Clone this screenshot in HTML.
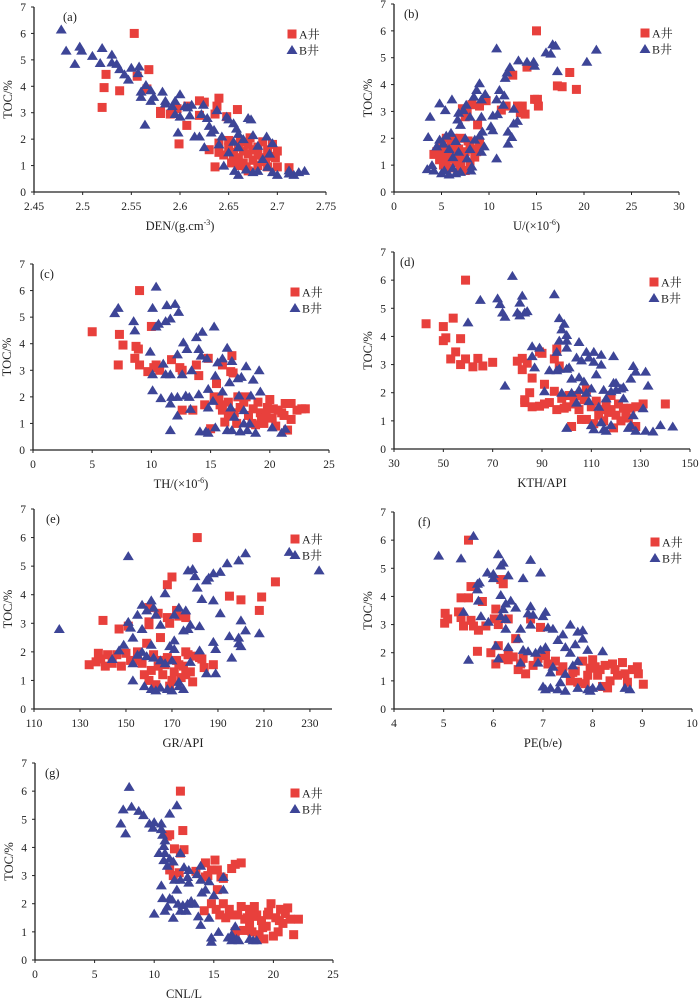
<!DOCTYPE html>
<html><head><meta charset="utf-8">
<style>
html,body{margin:0;padding:0;background:#fff;}
svg{display:block;}
text{font-family:"Liberation Serif","Noto Serif CJK SC",serif;fill:#222;}
</style></head>
<body>
<svg id="chart" width="700" height="998" viewBox="0 0 700 998" xmlns="http://www.w3.org/2000/svg"></svg>
<script>
// ---- data (x, TOC) ----
const denA=[[2.553,6],[2.568,4.63],[2.556,4.38],[2.524,4.45],[2.522,3.95],[2.538,3.83],[2.52,3.2],[2.566,3.9],[2.58,3.05],[2.58,2.97],[2.59,2.95],[2.597,3.15],[2.608,3.25],[2.607,2.52],[2.599,1.82],[2.62,3.45],[2.625,3.4],[2.64,3.55],[2.638,3.25],[2.62,2.9],[2.636,2.95],[2.659,3.12],[2.648,2.85],[2.636,0.95],[2.63,1.6],[2.64,1.85],[2.65,1.7],[2.655,1.5],[2.66,1.3],[2.665,1.55],[2.67,1.8],[2.672,2.05],[2.68,1.4],[2.685,1.9],[2.69,1.6],[2.695,1.8],[2.7,1.55],[2.698,1.3],[2.7,0.95],[2.712,0.92],[2.69,0.95],[2.68,1.0],[2.67,0.8],[2.66,1.0],[2.655,1.2],[2.645,1.4],[2.665,1.1],[2.675,1.2],[2.685,1.3],[2.66,1.7],[2.65,1.95],[2.68,1.7],[2.67,1.45],[2.675,1.6],[2.693,1.35],[2.64,1.5],[2.662,1.9],[2.653,1.1],[2.668,0.95],[2.688,1.15]];
const denB=[[2.478,6.15],[2.483,5.35],[2.492,4.85],[2.497,5.5],[2.499,5.35],[2.51,5.15],[2.518,4.88],[2.52,5.45],[2.53,5.2],[2.53,4.9],[2.535,4.85],[2.538,4.65],[2.543,4.45],[2.547,4.25],[2.55,4.7],[2.557,4.5],[2.558,4.75],[2.565,4.05],[2.56,3.8],[2.56,3.6],[2.57,3.85],[2.57,3.45],[2.573,3.6],[2.564,2.55],[2.582,3.8],[2.585,3.45],[2.585,3.35],[2.592,3.25],[2.595,3.45],[2.6,3.7],[2.595,2.95],[2.605,3.25],[2.6,2.85],[2.61,2.9],[2.612,3.3],[2.608,3.2],[2.598,2.25],[2.615,2.1],[2.62,2.1],[2.624,3.3],[2.622,2.95],[2.628,2.8],[2.63,2.5],[2.632,2.25],[2.635,2.35],[2.625,1.7],[2.638,3.1],[2.64,1.8],[2.643,2.1],[2.648,2.85],[2.65,2.75],[2.655,2.6],[2.658,2.4],[2.66,2.2],[2.65,1.5],[2.655,1.9],[2.66,1.7],[2.665,2.0],[2.67,2.8],[2.673,2.75],[2.675,2.15],[2.68,1.75],[2.689,2.1],[2.695,1.85],[2.645,1.0],[2.656,0.8],[2.66,0.65],[2.668,0.85],[2.675,0.75],[2.68,0.8],[2.69,0.95],[2.695,0.75],[2.7,0.65],[2.712,0.7],[2.712,0.82],[2.717,0.65],[2.722,0.75],[2.728,0.8],[2.685,1.25],[2.692,1.45]];
const uA=[[15,6],[14,4.65],[12.5,4.35],[18.5,4.45],[17.2,3.95],[17.7,3.92],[19.2,3.82],[14.8,3.45],[15.1,3.45],[15.2,3.2],[13.5,3.2],[13,3.2],[13.8,2.9],[13.3,2.95],[11.8,3.2],[11.3,3.05],[9.7,3.4],[9,3.2],[8.2,3.25],[7.5,2.8],[7.7,2.95],[7.2,3.1],[8.8,2.5],[5,1.4],[4.2,1.4],[5.5,2.0],[6,1.8],[6.5,1.5],[7,1.2],[5.5,1.1],[6,0.9],[7.5,0.8],[8,1.0],[8.5,1.3],[8.7,1.5],[9,1.8],[7.8,1.9],[7,2.0],[6.2,2.0],[5.2,1.0],[4.8,1.2],[5.8,1.3],[6.8,1.6],[7.3,1.4],[8.3,1.6],[5.5,1.6],[6.5,1.1],[7.5,1.5],[6,1.55],[5,1.7],[4.5,1.5],[7,0.9],[8,1.7],[8.8,1.6],[6.3,1.25]];
const uB=[[10.8,5.35],[16.7,5.5],[17,5.45],[16,5.2],[16.5,5.15],[21.3,5.3],[13.1,4.9],[14,4.85],[14.7,4.85],[14.8,4.7],[12.2,4.65],[11.9,4.45],[11.7,4.25],[20.3,4.85],[17.2,4.5],[9,4.05],[8.7,3.8],[9.6,3.65],[11.1,3.8],[11.6,3.6],[8.4,3.55],[10.8,3.45],[9.2,3.45],[11.5,3.25],[6.1,3.45],[4.8,3.3],[5.4,3.05],[3.8,2.8],[7.6,3.25],[6.8,2.95],[6.7,2.7],[7.3,3.05],[8,2.8],[9.2,2.8],[10.4,2.85],[10.9,2.9],[12.6,3.1],[13,2.65],[12.6,2.55],[10.2,2.45],[10.4,2.3],[9.3,2.25],[9,2.1],[12,2.25],[12.4,2.05],[12,1.8],[3.6,2.05],[9.5,1.7],[10.8,1.25],[7,2.5],[6,2.2],[5.5,2.1],[4.8,1.95],[4.5,1.7],[5.2,1.8],[6.5,1.9],[7.5,2.0],[8.5,1.95],[8,1.6],[6.8,1.5],[3.5,0.85],[4.2,0.8],[4,1.0],[5,0.7],[5.3,0.8],[5.8,0.65],[6.5,0.7],[7,0.75],[8.1,0.8],[8.2,0.95],[6.2,0.9],[7.7,1.25],[5.8,1.6],[6.2,1.3],[9.2,1.5]];
const thA=[[9,6],[5,4.45],[7.3,4.35],[10,4.65],[7.6,3.95],[8.7,3.9],[8.9,3.8],[8.6,3.45],[7.2,3.2],[9,3.2],[9.7,2.95],[10.2,3.1],[10.4,3.2],[10.7,3.0],[11.7,3.4],[12.4,3.1],[12.6,3.0],[13.8,3.2],[14,2.8],[14.8,3.45],[16,3.2],[16.8,3.55],[16.7,2.95],[16.9,2.9],[12.6,1.5],[13.5,1.5],[14.5,1.7],[15,0.8],[15.5,2.5],[15.3,2.0],[15.7,1.9],[16,1.5],[16.2,1.05],[16.5,1.8],[17,1.4],[17.2,1.0],[17.5,1.6],[18,2.0],[18.2,1.3],[18.5,1.0],[19,1.8],[19.2,1.4],[19.5,1.0],[19.8,1.6],[20,1.9],[20.2,1.2],[20.5,0.9],[21,1.4],[21.3,1.75],[21.5,0.75],[21.8,1.75],[21.8,1.15],[22.3,1.5],[22.7,1.55],[23,1.55],[18.8,0.95],[17.8,1.8],[19.3,1.2],[20.3,1.55],[16.5,1.3],[15.8,1.7],[17.3,2.0],[18.6,1.55],[19.7,1.3],[20.7,1.5],[21.2,1.3]];
const thB=[[10.4,6.15],[11.3,5.45],[12,5.5],[10.1,5.35],[12.3,5.2],[7.2,5.35],[6.9,5.15],[8.5,4.85],[11.6,4.95],[11.2,4.85],[10.6,4.75],[10.4,4.65],[8.6,4.5],[15.3,4.65],[14.3,4.45],[13.8,4.25],[12.7,4.05],[13,3.8],[9.9,3.7],[12.2,3.6],[14,3.8],[14.2,3.55],[16.4,3.85],[16,3.45],[14.7,3.45],[15.6,3.3],[15.4,2.8],[16.8,3.35],[11,3.25],[11.2,2.85],[11.6,2.85],[12.6,2.85],[13.4,3.0],[10.1,2.85],[18,3.15],[19.1,3.0],[18.6,2.65],[17.6,2.75],[17.3,2.7],[16.6,2.55],[10.1,2.25],[10.8,1.95],[11.7,2.0],[12.2,2.0],[12.9,2.05],[13.2,2.0],[14,2.1],[14.8,2.3],[19.2,2.2],[11.6,1.75],[12.2,1.3],[13.3,1.55],[14.8,1.6],[15.2,1.85],[16,2.2],[17.4,2.05],[18.4,2.05],[16.7,1.6],[17.8,1.5],[11.6,0.75],[14.1,0.7],[14.6,0.7],[14.8,0.65],[15.4,0.85],[16.4,0.75],[16.8,0.75],[17.5,0.7],[18.1,0.75],[18.8,0.65],[20.2,0.85],[21,0.65],[21.3,0.8],[17.8,1.0],[18.3,1.0],[17,1.25]];
const kthA=[[59,6],[43,4.45],[50,4.35],[54,4.65],[50,3.85],[51,3.95],[57,3.92],[53,3.2],[55,3.45],[59,3.2],[57,3.0],[62,2.92],[64,3.22],[66,2.95],[70,3.08],[80,3.12],[82,3.22],[84,3.05],[82,2.82],[89,3.45],[90,3.4],[86,2.52],[95,3.2],[96,3.55],[97,2.95],[85,2.0],[83,1.75],[83,1.65],[86,1.5],[89,1.52],[91,2.3],[91,1.6],[93,1.65],[95,2.05],[96,1.4],[98,1.8],[100,1.5],[101,1.9],[102,0.8],[103,1.6],[105,1.4],[106,1.05],[108,1.05],[108,2.1],[110,1.5],[111,0.9],[113,1.2],[115,1.0],[116,1.6],[117,1.3],[118,1.9],[119,0.75],[120,1.2],[121,1.6],[122,1.0],[124,1.3],[125,1.1],[126,1.45],[128,0.8],[128,1.5],[131,1.6],[140,1.6],[104,1.9],[112,1.7],[114,1.4],[118,1.4],[123,1.45],[99,1.45],[107,1.75]];
const kthB=[[78,6.15],[95,5.5],[65,5.3],[72,5.35],[73,5.15],[82,5.45],[81,5.2],[74,4.85],[75,4.7],[80,4.85],[81,4.75],[83,4.85],[84,4.9],[60,4.5],[97,4.65],[99,4.45],[98,4.25],[100,4.05],[100,3.85],[97,3.85],[96,3.45],[100,3.6],[105,3.8],[86,3.65],[89,3.6],[86,3.3],[104,3.25],[106,3.15],[108,3.45],[109,3.25],[111,3.45],[114,3.35],[111,3.1],[114,3.0],[119,3.3],[96,2.8],[97,2.85],[100,2.85],[101,2.9],[87,2.9],[93,2.8],[102,2.5],[105,2.55],[107,2.4],[112,2.65],[119,2.35],[120,2.35],[122,2.15],[123,2.2],[126,2.5],[127,2.95],[128,2.75],[132,2.75],[133,2.25],[75,2.25],[91,2.05],[98,2.0],[102,2.0],[105,2.1],[108,2.0],[110,2.15],[115,2.1],[118,2.05],[120,2.1],[113,1.5],[116,1.8],[123,1.8],[127,1.2],[131,1.45],[100,0.75],[110,0.85],[111,0.7],[114,0.95],[115,0.7],[116,0.65],[118,0.85],[125,0.75],[126,0.85],[128,0.65],[132,0.65],[135,0.62],[138,0.85],[143,0.8],[104,1.65],[109,1.7]];
const grA=[[181,6],[170,4.62],[168,4.35],[215,4.45],[195,3.95],[200,3.82],[209,3.92],[208,3.45],[140,3.1],[147,2.8],[151,2.9],[160,3.55],[160,3.05],[160,2.95],[164,3.35],[168,3.2],[169,3.0],[172,3.45],[176,3.2],[173,3.25],[165,2.5],[176,2.0],[134,1.55],[137,1.65],[138,1.95],[139,1.75],[141,1.5],[142,1.9],[144,1.6],[146,1.9],[148,1.5],[150,1.95],[152,1.7],[155,2.0],[157,1.6],[158,1.2],[159,2.3],[160,1.0],[162,1.9],[164,1.5],[166,1.2],[168,1.8],[169,0.8],[171,1.3],[172,1.7],[174,1.1],[175,1.5],[177,1.9],[178,1.3],[179,0.95],[180,1.85],[182,1.8],[183,1.75],[184,1.45],[188,1.55],[163,0.85],[167,1.55],[173,1.55],[176,1.2],[161,1.35],[170,1.0],[155,1.7],[165,1.7]];
const grB=[[121,2.8],[151,5.35],[221,5.5],[234,4.85],[202,5.45],[199,5.2],[194,5.1],[191,4.8],[188,4.75],[186,4.6],[185,4.5],[180,4.65],[177,4.85],[179,4.9],[181,4.25],[183,3.85],[188,3.8],[167,4.05],[161,3.8],[157,3.65],[159,3.45],[162,3.55],[173,3.55],[176,3.45],[171,3.3],[155,3.3],[151,3.05],[152,2.85],[157,2.8],[165,2.95],[163,3.3],[191,3.35],[200,3.1],[182,2.9],[178,2.95],[177,2.8],[175,2.75],[195,2.55],[199,2.5],[202,2.75],[208,2.65],[188,2.35],[189,2.1],[199,2.3],[200,2.2],[153,2.5],[147,2.05],[149,2.25],[161,2.25],[169,2.2],[171,2.1],[171,2.4],[182,2.05],[196,1.8],[144,1.75],[153,1.6],[155,1.9],[157,2.0],[159,1.85],[162,1.8],[165,1.7],[167,1.6],[170,1.7],[178,1.65],[185,1.25],[189,1.25],[153,1.0],[158,0.8],[161,0.7],[163,0.65],[165,0.75],[168,0.7],[170,0.65],[173,0.8],[175,0.7],[173,0.95]];
const peA=[[5.5,6],[6.15,4.6],[6.2,4.45],[5.55,4.35],[5.35,3.95],[5.5,3.95],[5.78,3.82],[5.03,3.4],[5.08,3.2],[5.02,3.05],[5.3,3.45],[5.35,3.25],[5.4,2.95],[5.55,3.15],[5.6,2.95],[5.7,2.8],[5.85,2.95],[6.05,3.55],[6.02,3.2],[6.1,3.0],[6.3,3.2],[6.75,3.2],[6.95,2.9],[5.68,2.05],[5.95,2.0],[6.05,1.6],[6.1,2.25],[6.2,1.8],[6.3,1.75],[6.4,1.85],[6.45,2.5],[6.5,1.4],[6.6,1.8],[6.65,1.25],[6.8,1.55],[6.9,1.8],[7.05,1.9],[7.1,1.6],[7.25,1.7],[7.35,1.35],[7.4,1.5],[7.55,1.0],[7.6,1.3],[7.7,0.95],[7.8,1.7],[7.85,0.9],[7.9,1.2],[8.0,1.75],[8.05,1.5],[8.1,1.2],[8.2,0.8],[8.25,1.55],[8.3,0.75],[8.35,1.0],[8.4,1.6],[8.5,1.2],[8.6,1.65],[8.65,1.25],[8.7,0.95],[8.8,1.4],[8.9,1.5],[8.92,1.25],[9.02,0.88],[7.95,1.45],[8.15,1.4],[6.3,1.95],[6.55,1.6],[7.65,1.35],[8.45,1.4]];
const peB=[[5.6,6.15],[4.9,5.45],[5.35,5.35],[6.1,5.5],[6.2,5.2],[6.15,5.1],[6.75,5.3],[6.95,4.85],[5.88,4.85],[6.0,4.8],[6.0,4.65],[6.3,4.75],[6.6,4.65],[5.68,4.45],[5.72,4.5],[5.68,4.25],[5.7,3.85],[6.15,4.05],[6.25,3.75],[6.35,3.85],[6.45,3.6],[6.2,3.55],[5.4,3.45],[5.75,3.3],[6.15,3.3],[6.25,3.2],[6.7,3.4],[6.75,3.65],[6.8,3.35],[7.05,3.45],[7.0,3.3],[5.9,3.1],[6.25,2.85],[6.55,2.85],[6.75,3.0],[7.1,2.9],[7.2,2.85],[7.55,3.0],[7.7,2.75],[7.8,2.8],[7.8,2.5],[7.4,2.65],[7.3,2.45],[6.5,2.5],[6.05,2.25],[6.3,2.2],[6.6,2.1],[6.7,2.05],[6.85,2.0],[6.95,2.1],[7.05,2.2],[7.45,2.2],[7.55,2.0],[7.65,2.3],[7.9,2.1],[8.2,2.05],[5.5,1.75],[6.1,1.8],[6.55,1.65],[6.9,1.65],[7.2,1.5],[7.15,1.3],[7.45,1.25],[7.6,1.55],[7.35,0.95],[7.0,0.8],[7.05,0.7],[7.15,0.75],[7.3,0.7],[7.45,0.65],[7.7,0.75],[7.9,0.7],[7.95,0.65],[8.0,0.75],[8.15,0.8],[8.65,0.75],[8.75,0.7],[7.7,1.7]];
const cnlA=[[12.2,6],[12.4,4.6],[11.1,4.4],[11.3,4.45],[11.7,3.95],[12.5,3.92],[12.2,3.8],[11.3,3.2],[11.6,3.0],[12.1,3.1],[13.5,3.15],[14.3,3.45],[14.5,3.0],[14.3,2.95],[14.8,3.2],[15.1,3.55],[15.3,3.2],[15.6,2.95],[15.8,2.9],[16.5,3.25],[16.8,3.4],[17.3,3.45],[15.3,2.5],[14.2,1.75],[14.8,2.0],[15.2,1.8],[15.5,1.6],[15.8,2.0],[16,1.5],[16.3,1.8],[16.6,1.6],[17,1.6],[17.3,1.9],[17.5,1.05],[17.8,1.5],[18,1.3],[18.2,1.0],[18.4,1.9],[18.6,1.6],[18.8,0.9],[19,1.4],[19.2,0.75],[19.4,1.2],[19.6,1.7],[19.8,2.0],[20,0.85],[20.2,1.5],[20.4,1.0],[20.6,1.8],[20.8,1.3],[21,1.65],[21.2,1.85],[21.4,1.45],[21.7,0.9],[22.1,1.45],[16.8,1.0],[17.6,1.45],[18.3,1.55],[19.5,1.6],[20.5,1.4],[19.1,1.15],[18,1.8]];
const cnlB=[[7.9,6.15],[7.4,5.35],[8.1,5.45],[8.7,5.3],[9.1,5.15],[11.9,5.5],[11.3,5.2],[7.2,4.85],[7.6,4.5],[9.6,4.85],[10,4.9],[9.9,4.7],[10.6,4.85],[10.6,4.65],[10.7,4.45],[10.9,4.25],[10.8,4.05],[10.4,3.8],[10.9,3.8],[11.3,3.6],[11.6,3.5],[10.8,3.55],[11.1,3.35],[12.2,3.8],[12.5,3.3],[12.9,3.2],[13.9,3.35],[13.6,3.05],[13.9,2.85],[14.6,2.8],[15.8,2.95],[12.8,2.95],[12.9,2.75],[11.7,2.85],[12.2,2.85],[10.6,2.65],[11.9,2.5],[10.7,2.2],[11.3,2.2],[11.5,2.15],[12.0,2.0],[12.4,1.95],[12.8,2.0],[13.1,2.1],[13.4,2.0],[14.0,2.4],[14.3,2.5],[15.0,2.3],[15.8,2.5],[10.0,1.65],[10.9,1.75],[11.1,1.9],[11.6,1.5],[12.2,1.75],[12.7,1.75],[13.7,1.55],[13.9,1.25],[14.6,1.5],[14.8,0.65],[14.8,0.8],[15.4,1.0],[16.2,0.8],[16.5,0.7],[16.5,0.9],[16.9,0.75],[17.1,0.7],[16.8,1.2],[18.0,0.75],[18.3,0.7],[18.6,0.7]];
// tick labels
const denTicks=["2.45","2.5","2.55","2.6","2.65","2.7","2.75"];
const uTicks=["0","5","10","15","20","25","30"];
const thTicks=["0","5","10","15","20","25"];
const kthTicks=["30","50","70","90","110","130","150"];
const grTicks=["110","130","150","170","190","210","230"];
const peTicks=["4","5","6","7","8","9","10"];
const cnlTicks=["0","5","10","15","20","25"];
const tocTicks=["0","1","2","3","4","5","6","7"];

const NS="http://www.w3.org/2000/svg";
const svg=document.getElementById('chart');
function mk(tag,attrs,parent){const e=document.createElementNS(NS,tag);for(const k in attrs)e.setAttribute(k,attrs[k]);(parent||svg).appendChild(e);return e;}

const panels=[
 {id:'a',x0:34,x1:326,yt:7,yb:192,xmin:2.45,xmax:2.75,ticks:denTicks,A:denA,B:denB,title:'DEN/(g.cm',sup:'-3',tail:')',lx:292,ly:34,labx:63},
 {id:'b',x0:394,x1:679,yt:4,yb:192,xmin:0,xmax:30,ticks:uTicks,A:uA,B:uB,title:'U/(×10',sup:'-6',tail:')',lx:645,ly:33,labx:404},
 {id:'c',x0:33,x1:329,yt:264,yb:450,xmin:0,xmax:25,ticks:thTicks,A:thA,B:thB,title:'TH/(×10',sup:'-6',tail:')',lx:295,ly:292,labx:40},
 {id:'d',x0:394,x1:690,yt:252,yb:449,xmin:30,xmax:150,ticks:kthTicks,A:kthA,B:kthB,title:'KTH/API',sup:'',tail:'',lx:654,ly:282,labx:400},
 {id:'e',x0:34,x1:332,yt:509,yb:709,xmin:110,xmax:239.6,ticks:grTicks,A:grA,B:grB,title:'GR/API',sup:'',tail:'',lx:295,ly:539,labx:46},
 {id:'f',x0:394,x1:692,yt:512,yb:709,xmin:4,xmax:10,ticks:peTicks,A:peA,B:peB,title:'PE(b/e)',sup:'',tail:'',lx:655,ly:542,labx:418},
 {id:'g',x0:35,x1:333,yt:763,yb:960,xmin:0,xmax:25,ticks:cnlTicks,A:cnlA,B:cnlB,title:'CNL/L',sup:'',tail:'',lx:295,ly:793,labx:45}
];
const RED='#e8403c', BLUE='#3d4597';
function sq(g,cx,cy){const r=mk('rect',{x:cx-4.5,y:cy-4.5,width:9,height:9,fill:RED},g);}
function tri(g,cx,cy){const p=mk('polygon',{points:`${cx},${cy-5} ${cx+5.5},${cy+4} ${cx-5.5},${cy+4}`,fill:BLUE},g);}

panels.forEach(P=>{
 const g=mk('g',{});
 
 
 const sx=v=>P.x0+(v-P.xmin)/(P.xmax-P.xmin)*(P.x1-P.x0);
 const sy=v=>P.yb-(v/7)*(P.yb-P.yt);
 const ax=mk('line',{x1:P.x0,y1:P.yb,x2:P.x1,y2:P.yb,stroke:'#222','stroke-width':1.3},g);
 
 const ay=mk('line',{x1:P.x0,y1:P.yt,x2:P.x0,y2:P.yb,stroke:'#222','stroke-width':1.3},g);
 
 P.ticks.forEach(t=>{
  const x=sx(parseFloat(t));
  mk('line',{x1:x,y1:P.yb,x2:x,y2:P.yb+3,stroke:'#222'},g);
  const tx=mk('text',{x:x,y:P.yb+18,'text-anchor':'middle','font-size':11.5},g);
  tx.textContent=t;
  
 });
 tocTicks.forEach((t,i)=>{
  const y=sy(i);
  mk('line',{x1:P.x0-3,y1:y,x2:P.x0,y2:y,stroke:'#222'},g);
  const tx=mk('text',{x:P.x0-8,y:y+4,'text-anchor':'end','font-size':11.5},g);
  tx.textContent=t;
  
 });
 const xt=mk('text',{x:(P.x0+P.x1)/2,y:P.yb+38,'text-anchor':'middle','font-size':12.5},g);
 
 xt.appendChild(document.createTextNode(P.title));
 if(P.sup){const s=mk('tspan',{'font-size':8,dy:-5},xt);s.textContent=P.sup;const t2=mk('tspan',{dy:5},xt);t2.textContent=P.tail;}
 const cy=(P.yt+P.yb)/2;
 const yt=mk('text',{x:P.x0-22,y:cy,'text-anchor':'middle','font-size':12.5,transform:`rotate(-90 ${P.x0-22} ${cy})`},g);
 yt.textContent='TOC/%';
 
 const lb=mk('text',{x:P.labx,y:P.yt+14,'font-size':12.5},g);
 lb.textContent='('+P.id+')';
 
 P.A.forEach(d=>sq(g,sx(d[0]),sy(d[1])));
 P.B.forEach(d=>tri(g,sx(d[0]),sy(d[1])));
 const lg=mk('g',{},g);
 
 sq(lg,P.lx,P.ly);
 const la=mk('text',{x:P.lx+7,y:P.ly+4.5,'font-size':12,'font-family':'"Liberation Sans","Noto Sans CJK SC",sans-serif'},lg);
 la.textContent='A井';
 tri(lg,P.lx,P.ly+16);
 const lb2=mk('text',{x:P.lx+7,y:P.ly+20.5,'font-size':12,'font-family':'"Liberation Sans","Noto Sans CJK SC",sans-serif'},lg);
 lb2.textContent='B井';
});
</script>
</body></html>
